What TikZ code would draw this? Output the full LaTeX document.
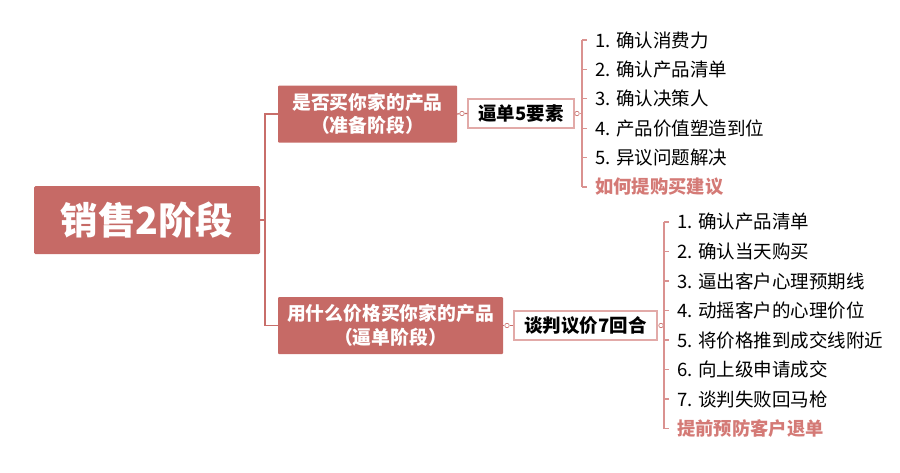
\documentclass[tikz,border=0pt]{standalone}
\usepackage{fontspec}
\setmainfont{Noto Sans CJK SC}
\definecolor{rootred}{RGB}{198,106,102}
\definecolor{linered}{RGB}{200,110,106}
\definecolor{brkpink}{RGB}{218,146,144}
\definecolor{subedge}{RGB}{226,170,168}
\definecolor{tipred}{RGB}{212,122,118}
\begin{document}
\begin{tikzpicture}[
      x=1pt, y=-1pt,
      every node/.style={inner sep=0pt},
      rootbox/.style={fill=rootred, rounded corners=1.5pt, text=white,
                      font=\fontsize{37.5}{40}\selectfont\bfseries,
                      minimum width=226pt, minimum height=68pt},
      stagebox/.style={fill=rootred, rounded corners=1pt, text=white, align=center,
                       font=\fontsize{18.8}{23.5}\selectfont\bfseries, minimum height=57pt},
      keybox/.style={draw=subedge, line width=1.2pt, fill=white,
                     font=\fontsize{18.5}{20}\selectfont\bfseries, minimum height=29pt},
      listitem/.style={anchor=west, font=\fontsize{18.5}{20}\selectfont},
      lastitem/.style={anchor=west, text=tipred, font=\fontsize{18.3}{20}\selectfont\bfseries},
      trunk/.style={draw=linered, line width=1.2pt},
      brk/.style={draw=brkpink, line width=1.2pt},
      knob/.style={circle, draw=linered, fill=white, line width=0.6pt, minimum size=4.5pt}
    ]
    \useasboundingbox (0,0) rectangle (900,472);

    % Tema central
    \node[rootbox] (root) at (147,220) {销售2阶段};

    % Dois estágios
    \node[stagebox, minimum width=179pt] (prep) at (367.5,114) {是否买你家的产品\\（准备阶段）};
    \node[stagebox, minimum width=225pt] (close) at (390.5,325.5) {用什么价格买你家的产品\\（逼单阶段）};

    \coordinate (fork) at (265,220);
    \draw[trunk] (root.east) -- (fork) |- (prep.west);
    \draw[trunk] (fork) |- (close.west);

    % Chaves de cada estágio
    \node[keybox, minimum width=106pt] (five) at (521,113.5) {逼单5要素};
    \node[keybox, minimum width=143pt] (seven) at (585.5,325.5) {谈判议价7回合};

    \node[knob] (k1) at (462,113.5) {};
    \node[knob] (k2) at (577,113.5) {};
    \node[knob] (k3) at (507,325.5) {};
    \node[knob] (k4) at (661,325.5) {};

    \draw[trunk] (prep.east) -- (k1) -- (five.west);
    \draw[trunk] (close.east) -- (k3) -- (seven.west);

    % Lista 1
    \foreach \t [count=\i] in {1. 确认消费力, 2. 确认产品清单, 3. 确认决策人,
                               4. 产品价值塑造到位, 5. 异议问题解决}
      \node[listitem] (a\i) at (595,40+29.4*\i-29.4) {\t};
    \node[lastitem] (a6) at (595,187) {如何提购买建议};

    \coordinate (br1) at (582,0);
    \draw[brk] (k2) -- (k2 -| br1);
    \draw[brk] (br1 |- a1.west) -- (br1 |- a6.west);
    \foreach \i in {1,...,6}
      \draw[brk] (br1 |- a\i.west) -- ++(5,0);

    % Lista 2
    \foreach \t [count=\i] in {1. 确认产品清单, 2. 确认当天购买, 3. 逼出客户心理预期线,
                               4. 动摇客户的心理价位, 5. 将价格推到成交线附近,
                               6. 向上级申请成交, 7. 谈判失败回马枪}
      \node[listitem] (b\i) at (677,222+29.5*\i-29.5) {\t};
    \node[lastitem] (b8) at (677,428.5) {提前预防客户退单};

    \coordinate (br2) at (664,0);
    \draw[brk] (k4) -- (k4 -| br2);
    \draw[brk] (br2 |- b1.west) -- (br2 |- b8.west);
    \foreach \i in {1,...,8}
      \draw[brk] (br2 |- b\i.west) -- ++(5,0);
  \end{tikzpicture}
\end{document}
